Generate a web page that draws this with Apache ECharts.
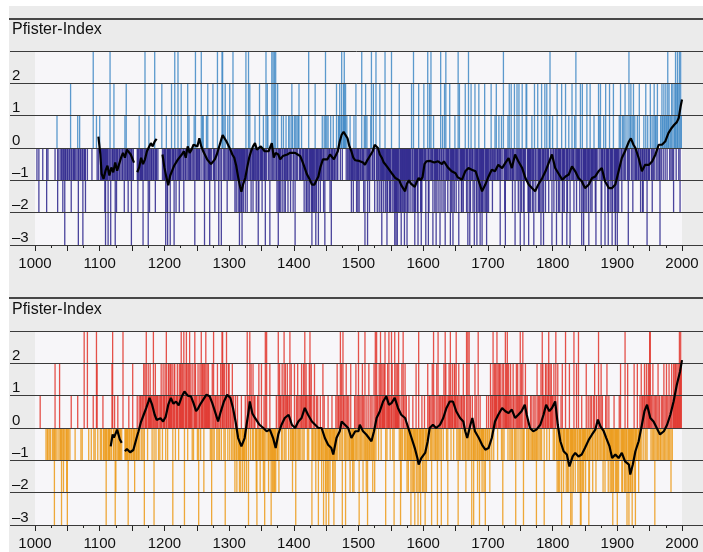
<!DOCTYPE html>
<html><head><meta charset="utf-8">
<script src="https://cdn.jsdelivr.net/npm/echarts@6/dist/echarts.min.js"></script>
<style>html,body{margin:0;padding:0;background:#fff}#c{width:703px;height:552px}</style>
</head><body><div id="c"></div>
<script>
// Yearly Pfister index, one character per year, ten years per group, one string per century (1000s ... 1900s).
// Codes: 0 = no value, 1/2/3 = +1/+2/+3, a/b/c = -1/-2/-3
const winterIndex = [
"000a00b000 00a00000b0 a000000000 0a001b0a00 aa0ba0caa0 aa0aa2ba0a aa0a0a1ca1 aa0ac0aab0 0a000000a0 300001a0a0",
"1aaaaaaabc aaac0a3c0a aa2ac0baa0 aa0a0aa0b1 a2aab0a0ac a0a00000ab a1aaaaac0a 3aa0ac1b0a aa0aa3baa0 a000002a0a",
"aac1bcaaac a2aaac3ab0 a3abaa2a0a b0aa0a2a1a aa0a0a1c3a aa0aaa03a1 1ac0a1a2aa ca0a02aab0 a03ac0a0c3 3a1a2a0b1a",
"a2aa0a3aab abaabacbab cabaab3aba 3a2ab0abaa 1ab0acb2aa aba1aac3a2 1a0c0a3a3a 3a3ab2cabb a1ba1bab1a ab1a1ba21b",
"a1c1a1a12a aa1aaab0ab bab3baabcb bab2cbaac0 abaa1ab1c3 a1a1aab1ca a1aa0a2aa1 12a13a1231 2a1a0aa1ab aab1aa2bab",
"ab0aa3aab1 c2a1caaba1 3aa2ab03ab 0ab2abcaab a3bacbaabb b3ababcbcb cab2bbcaba bcabacbaba ab2ab3bcba abc2aabcba",
"a2aac0a3cb 2a3aac1aba caab0ac3ab 1ab2c3aaba a2cabacab1 abaa3c2aab babaa2abac 3acb2aab0c 2abcab2bca bcbab2bacb",
"ab0aa2ab0a a1a2aaa1ac a1a03abcaa a1a2aa2aba a2c0a2ab2a cab2abcaa2 2abcbaba1b ac2ab0a2bb bac2baca2b a2aab13a0c",
"1ab0aac2ab abaa2cbaba 2acba1ac0a 2aab1a3baa aab2ac2bca bab2abca2b abaa1abca0 a21a2cbaa1 ac2aabcb2a bacb2abcba",
"cab1a2ab1a 1a2a01ac3a 12a1b2a1aa a1aa2ab0ab b1aa2ac1aa a21ab1a2a1 1a2a0ac1a2 1a21a21a31 2a1a2a2b12 3a232a3b31"
];
const summerIndex = [
"0000000010 0000000a0a a0a0a00a0a c2a0a00a2a ac0ab0a0ab c0a0a01000 00a0001000 0a0a003000 030a000a00 1a0a032a00",
"0a0a01aa0a ca0aaaa0a2 3aa1cb0a1a aaa0a0300a aaaac1aa0a a2aab0aa1a a1a11a1a2c 2131a21121 1a13c12a11 1a1a121a21",
"12a31a2212 212c122a11 21a2123121 3c2132a213 121a2a1321 1a2c12a312 2b21312121 1a1c2a3a11 1a2a1a12a3 32a2c131a2",
"2a11a2a1ab 1ab1aabab1 abaab1ab31 c13a21a2a1 1abc1a2aba 2aab1c3a30 aba2acabab bab1aa3b21 1a2a13a2a1 21a13a2aba",
"a2ac1a2a1a 1a21a2a312 1a1a2312ca 1a2ab1a1ca a1aba2c1ab cab1cabaa1 bacab1a2a1 1a3a2c31a1 c2a1a1ab2a abab1a2a1a",
"3c1a1a2b1a 3ab1ca2aa1 a1ba2b3a31 1a213a2121 23c1a2131a 132a1c3121 213a1cb2a3 1a2a1bab1a acab1baca2 bac3baca1b",
"ab1caba2a1 1a1c2a3a1a a2c3a1a1c1 1a2132a1c1 213a121a22 13a1c2a1a1 1a2a1ab3a3 a3a1ac1aca 2a1ab3ac1a abaab0ca1a",
"a1ab21a13a 21213a2122 1a2c2a1312 3a21a2a1a2 1a1c2a21a1 3a2a3ca121 a1aa0a1a1a a1a1ac2a1a 1a2a321c12 2a123a2121",
"1a2a13ab2b aba1c2abaa 3babab2aca cab3aba2ab 3bacc1baba ab2aa1cb1a 1ab1a2ab1a a3a1a2a1ba ab1a2ab1ab abacb1abab",
"cab1a2abba ab3bac2bca bbacba2bca a2aba1a2a1 1a21a2a121 33a1a2a1c1 a1a2a1aa1a 1a2a1a2a1a 2a1b2a1212 2121213232"
];
// Smoothed curve (black line); null = gap
const winterMeanYears = [1098,1101,1103,1106,1109,1112,1115,1118,1121,1124,1127,1130,1133,1136,1139,1142,1145,1148,1150,1153,1156,1158,1161,1164,1167,1170,1173,1176,1179,1182,1185,1188,1192,1197,1200,1203,1206,1209,1212,1215,1218,1221,1224,1227,1230,1233,1236,1239,1242,1245,1248,1251,1254,1257,1260,1263,1266,1269,1272,1275,1278,1281,1284,1287,1290,1293,1296,1299,1302,1305,1308,1311,1314,1317,1319,1322,1325,1328,1331,1334,1337,1340,1343,1346,1349,1352,1355,1358,1361,1364,1366,1369,1372,1376,1379,1383,1386,1390,1394,1398,1402,1406,1410,1414,1417,1420,1424,1428,1432,1435,1438,1441,1445,1448,1452,1456,1459,1462,1465,1468,1471,1474,1477,1480,1483,1486,1489,1492,1495,1498,1501,1504,1507,1510,1513,1516,1519,1522,1525,1527,1530,1533,1536,1539,1542,1545,1548,1551,1554,1557,1560,1563,1566,1569,1572,1575,1578,1581,1584,1587,1590,1593,1596,1599,1602,1605,1608,1611,1614,1617,1620,1623,1626,1629,1632,1635,1638,1641,1644,1647,1650,1653,1656,1660,1665,1670,1675,1681,1686,1691,1696,1701,1706,1711,1716,1722,1727,1732,1737,1742,1747,1753,1758,1763,1768,1773,1778,1784,1789,1794,1799,1804,1810,1815,1820,1825,1830,1835,1840,1845,1850,1856,1861,1866,1871,1876,1881,1887,1892,1897,1902,1907,1912,1918,1921,1925,1928,1933,1938,1943,1949,1954,1959,1964,1969,1974,1979,1984,1988,1992,1995,1998,2000];
const winterMeanValues = [0.35,-0.2,-0.8,-0.95,-0.7,-0.55,-0.85,-0.6,-0.75,-0.45,-0.7,-0.5,-0.3,-0.15,-0.3,-0.05,-0.1,-0.2,-0.25,-0.45,null,-0.75,-0.6,-0.3,-0.5,-0.35,-0.1,-0.05,0.15,0.05,0.2,0.28,null,-0.2,-0.6,-0.9,-1.15,-0.85,-0.7,-0.55,-0.6,-0.35,-0.4,-0.2,-0.1,-0.3,0.05,-0.15,-0.05,0.1,0.15,0.05,0.3,0.05,-0.1,-0.15,-0.35,-0.3,-0.5,-0.55,-0.35,-0.2,-0.15,0.2,0.4,0.35,0.2,0.15,-0.05,-0.2,-0.3,-0.55,-0.9,-1.2,-1.35,-1.1,-0.93,-0.6,-0.3,-0.1,0.05,0.15,-0.05,-0.1,0.05,0.0,-0.1,-0.15,-0.1,0.05,0.15,-0.3,-0.15,-0.2,-0.35,-0.25,-0.3,-0.2,-0.15,-0.15,-0.15,-0.2,-0.25,-0.45,-0.62,-0.8,-0.95,-1.13,-1.13,-1.0,-0.88,-0.6,-0.35,-0.31,-0.35,-0.2,-0.2,-0.35,-0.35,-0.1,0.2,0.41,0.5,0.45,0.3,0.05,-0.1,-0.3,-0.38,-0.41,-0.4,-0.35,-0.45,-0.52,-0.4,-0.3,-0.25,-0.1,0.1,0.15,0.0,-0.2,-0.3,-0.45,-0.52,-0.6,-0.65,-0.77,-0.85,-0.93,-0.98,-1.0,-1.15,-1.2,-1.34,-1.1,-1.0,-1.1,-1.13,-1.2,-1.05,-0.93,-1.0,-0.9,-0.5,-0.41,-0.41,-0.4,-0.41,-0.45,-0.4,-0.41,-0.45,-0.5,-0.41,-0.45,-0.6,-0.62,-0.72,-0.7,-0.78,-0.9,-0.85,-0.98,-0.72,-0.62,-0.67,-0.72,-1.03,-1.34,-1.13,-0.88,-0.67,-0.72,-0.52,-0.62,-0.46,-0.31,-0.62,-0.2,-0.41,-0.62,-0.93,-1.13,-1.24,-1.34,-1.13,-0.93,-0.72,-0.46,-0.2,-0.62,-0.82,-0.98,-0.88,-0.82,-0.57,-0.72,-0.93,-1.03,-1.24,-1.13,-0.93,-0.88,-0.72,-0.62,-1.03,-1.24,-1.24,-1.13,-0.72,-0.31,-0.1,0.2,0.3,0.1,0.0,-0.31,-0.72,-0.52,-0.52,-0.41,-0.2,0.1,0.1,0.2,0.46,0.62,0.72,0.8,0.93,1.3,1.5];
const summerMeanYears = [1117,1120,1122,1124,1127,1131,1134,1136,1139,1142,1144,1147,1149,1152,1154,1157,1160,1164,1168,1172,1175,1177,1181,1185,1188,1190,1194,1198,1202,1206,1210,1214,1218,1222,1224,1227,1231,1236,1241,1245,1249,1252,1255,1260,1265,1270,1274,1278,1283,1287,1292,1297,1302,1306,1310,1314,1319,1324,1327,1330,1332,1336,1340,1347,1353,1358,1363,1368,1372,1376,1381,1386,1392,1397,1402,1407,1412,1417,1422,1428,1433,1438,1443,1448,1453,1458,1461,1466,1471,1474,1479,1484,1489,1495,1500,1502,1507,1512,1520,1524,1528,1533,1538,1543,1547,1551,1556,1561,1566,1572,1577,1582,1587,1591,1593,1597,1603,1607,1610,1615,1620,1626,1631,1636,1641,1646,1651,1657,1662,1665,1668,1673,1676,1680,1686,1691,1696,1701,1706,1711,1716,1722,1727,1732,1737,1742,1747,1752,1757,1760,1765,1770,1775,1781,1786,1790,1795,1799,1804,1808,1812,1817,1822,1826,1831,1835,1840,1845,1850,1856,1861,1866,1870,1874,1879,1883,1888,1892,1897,1902,1907,1912,1918,1920,1924,1928,1933,1938,1942,1946,1951,1956,1961,1966,1972,1977,1982,1987,1992,1997,2000];
const summerMeanValues = [-0.57,-0.2,-0.3,-0.25,-0.05,-0.35,-0.46,null,-0.72,-0.65,-0.62,-0.75,-0.72,-0.68,-0.62,-0.31,-0.1,0.2,0.41,0.62,0.8,0.93,0.72,0.41,0.25,0.2,0.3,0.2,0.35,0.72,0.93,0.75,0.82,0.7,0.67,0.98,1.13,1.0,0.98,0.77,0.52,0.6,0.72,0.88,1.03,0.98,0.77,0.52,0.2,0.5,0.82,1.03,0.93,0.62,0.2,-0.31,-0.57,-0.31,0.1,0.5,0.82,0.45,0.31,0.1,0.0,-0.1,-0.05,-0.31,-0.62,-0.2,0.1,0.31,0.41,0.1,0.0,0.2,0.31,0.62,0.41,0.2,0.1,0.0,0.0,-0.31,-0.52,-0.62,-0.82,-0.31,-0.1,0.2,0.1,0.0,-0.31,-0.1,-0.1,0.1,-0.1,-0.2,-0.41,-0.1,0.31,0.52,0.82,0.98,0.72,0.77,0.93,0.62,0.41,0.31,0.0,-0.31,-0.62,-0.93,-1.13,-0.93,-0.77,-0.41,0.0,0.1,0.0,0.1,0.31,0.62,0.82,0.82,0.52,0.31,0.2,-0.1,-0.31,0.1,0.31,-0.1,-0.31,-0.52,-0.67,-0.62,-0.31,0.2,0.41,0.62,0.52,0.46,0.57,0.31,0.41,0.52,0.72,0.41,0.0,-0.1,-0.05,0.1,0.41,0.72,0.52,0.62,0.82,0.1,-0.41,-0.72,-0.82,-1.19,-0.88,-0.77,-0.88,-0.82,-0.62,-0.36,-0.2,-0.05,0.26,0.05,-0.1,-0.31,-0.57,-0.93,-0.82,-0.93,-0.77,-1.03,-1.13,-1.44,-1.13,-0.72,-0.41,0.1,0.52,0.72,0.31,0.2,0.0,-0.2,-0.1,0.1,0.41,0.82,1.34,1.75,2.1];
const yTickLabels = ['–3','–2','–1','0','1','2',''];
const panelTitle = 'Pfister-Index';

const CODE = {'0':0,'1':1,'2':2,'3':3,'a':-1,'b':-2,'c':-3};
function decode(centuries){
  const pos=[], neg=[];
  centuries.forEach((s,ci)=>{
    s.trim().split(/\s+/).forEach((d,di)=>{
      for(let i=0;i<10;i++){
        const v = CODE[d[i]] || 0;
        const yr = 1000 + ci*100 + di*10 + i;
        if(v>0) pos.push([yr,v]); else if(v<0) neg.push([yr,v]);
      }
    });
  });
  return {pos,neg};
}
const winter = decode(winterIndex), summer = decode(summerIndex);
const pairs = (ys,vs)=>ys.map((y,i)=>[y, vs[i]===null?'-':vs[i]]);

const FONT = "'Liberation Sans', Arial, sans-serif";
const panels = [{top:51, titleTop:22, lineY:19}, {top:331, titleTop:302, lineY:298}];
const grid=[], xAxis=[], yAxis=[], series=[], title=[], graphic=[];
graphic.push({type:'rect', shape:{x:9,y:6,width:694,height:546}, style:{fill:'#ebebeb'}, z:-100, silent:true});
const cols = [{pos:'#3f88c5', neg:'#2b258c', data:winter, mean:pairs(winterMeanYears,winterMeanValues)},
              {pos:'#e0342b', neg:'#ec9a18', data:summer, mean:pairs(summerMeanYears,summerMeanValues)}];
panels.forEach((p,k)=>{
  const g0 = grid.length;
  grid.push({left:10, right:0, top:p.top, height:194});
  grid.push({left:35, width:647, top:p.top, height:194, show:true, backgroundColor:'#f7f6f9', borderWidth:0});
  xAxis.push({gridIndex:g0, type:'value', min:961.4, max:2032.5, show:false});
  yAxis.push({gridIndex:g0, type:'value', min:-3, max:3, interval:1, z:4,
    axisLine:{show:false}, axisTick:{show:false},
    splitLine:{show:true, lineStyle:{color:'#3a3a3a', width:1}},
    axisLabel:{inside:true, margin:2, align:'left', verticalAlign:'bottom', fontSize:15, color:'#111', fontFamily:FONT,
      formatter:v=>yTickLabels[Math.round(v)+3]}});
  xAxis.push({gridIndex:g0+1, type:'value', min:1000, max:2000, interval:50, position:'bottom',
    axisLine:{show:true, onZero:false, lineStyle:{color:'#3a3a3a', width:1, opacity:0}}, splitLine:{show:false},
    axisTick:{show:true, length:6, lineStyle:{color:'#222', width:1}},
    minorTick:{show:true, splitNumber:2, length:3, lineStyle:{color:'#222', width:1}},
    axisLabel:{margin:11, fontSize:15, color:'#111', fontFamily:FONT, formatter:v=>(v%100===0?String(v):'')}});
  yAxis.push({gridIndex:g0+1, type:'value', min:-3, max:3, show:false});
  const c = cols[k];
  series.push({type:'bar', xAxisIndex:g0+1, yAxisIndex:g0+1, data:c.data.pos, barWidth:1.3, barGap:'-100%', silent:true,
    itemStyle:{color:c.pos, opacity:0.85}});
  series.push({type:'bar', xAxisIndex:g0+1, yAxisIndex:g0+1, data:c.data.neg, barWidth:1.3, barGap:'-100%', silent:true,
    itemStyle:{color:c.neg, opacity:0.85}});
  series.push({type:'line', xAxisIndex:g0+1, yAxisIndex:g0+1, data:c.mean, symbol:'none', z:6, silent:true,
    lineStyle:{color:'#000', width:2.2}});
  title.push({text:panelTitle, left:12, top:p.titleTop, padding:0,
    textStyle:{fontSize:16, fontWeight:'normal', color:'#111', fontFamily:FONT}});
  graphic.push({type:'line', shape:{x1:9,y1:p.lineY,x2:703,y2:p.lineY}, style:{stroke:'#111', lineWidth:1.5}, silent:true});
});

const chart = echarts.init(document.getElementById('c'));
chart.setOption({backgroundColor:'#ffffff', animation:false, title, grid, xAxis, yAxis, series, graphic});
</script></body></html>
